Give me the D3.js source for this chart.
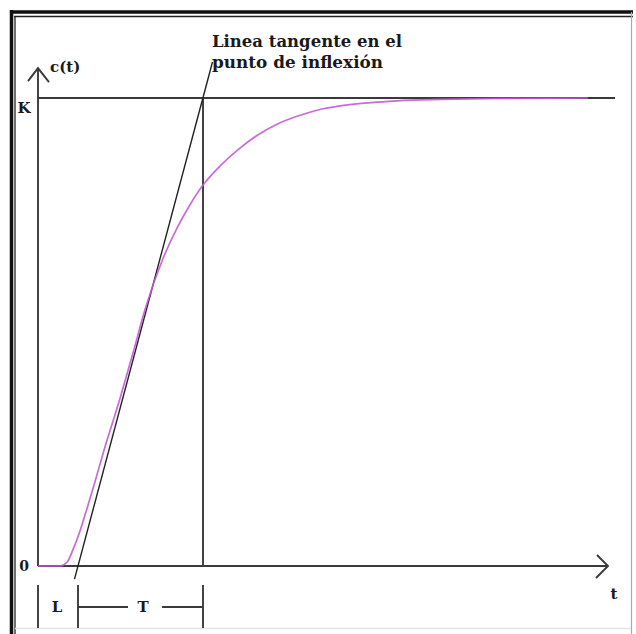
<!DOCTYPE html>
<html>
<head>
<meta charset="utf-8">
<script src="https://cdn.jsdelivr.net/npm/d3@7"></script>
<style>
  html, body { margin: 0; padding: 0; background: #fff; }
  svg { display: block; }
  .lbl { font-family: "DejaVu Serif", serif; font-weight: bold; fill: #1a1a1a; }
</style>
</head>
<body>
<svg id="chart" width="636" height="634"></svg>
<script>
// step response c(t) (t in arbitrary units, c normalised to K = 1)
const curveT = [0, 2.2, 2.9, 3.5, 4.2, 4.9, 5.7, 6.5, 8.2, 9.5, 10.7, 12.5, 13.9, 15.2, 16.5, 17.9, 20.2, 21.9, 23.9, 26.2, 28.5, 31.2, 33.9, 35.9, 40.4, 46.2, 55.0]
const curveC = [0, 0, 0.008, 0.035, 0.075, 0.123, 0.18, 0.24, 0.358, 0.455, 0.548, 0.657, 0.722, 0.772, 0.814, 0.848, 0.893, 0.92, 0.944, 0.963, 0.977, 0.986, 0.991, 0.994, 0.997, 0.999, 1.0]

// tangent line through the inflexion point (crosses 0 at L and K at L+T)
const tangentT = [3.65, 17.45]
const tangentC = [-0.028, 1.077]

const deadTime = 4.0       // L
const timeConst = 12.5     // T
const axisEndT = 57
const axisEndC = 1.064
const kLineEndT = 57.7

const yTickLabels = ["0", "K"]
const yTickValues = [0, 1]
const annotation = ["Linea tangente en el", "punto de inflexión"]

document.addEventListener('DOMContentLoaded', function () {
  const svg = d3.select('#chart')

  const x = d3.scaleLinear().domain([0, axisEndT]).range([38, 608])
  const y = d3.scaleLinear().domain([0, 1]).range([566, 98])

  const ink = '#3a3a3a'

  // picture frame
  svg.append('line').attr('x1', 10).attr('x2', 633).attr('y1', 12).attr('y2', 12)
    .attr('stroke', '#111').attr('stroke-width', 3.5)
  svg.append('line').attr('x1', 14).attr('x2', 633).attr('y1', 16.5).attr('y2', 16.5)
    .attr('stroke', '#222').attr('stroke-width', 1.3)
  svg.append('line').attr('x1', 11.5).attr('x2', 11.5).attr('y1', 10).attr('y2', 634)
    .attr('stroke', '#111').attr('stroke-width', 3.5)
  svg.append('line').attr('x1', 15).attr('x2', 15).attr('y1', 16).attr('y2', 634)
    .attr('stroke', '#222').attr('stroke-width', 1.3)
  svg.append('line').attr('x1', 631.5).attr('x2', 631.5).attr('y1', 12).attr('y2', 634)
    .attr('stroke', '#aaa').attr('stroke-width', 1.2)
  svg.append('line').attr('x1', 15).attr('x2', 631).attr('y1', 628.5).attr('y2', 628.5)
    .attr('stroke', '#e4e4e4').attr('stroke-width', 1.5)

  const g = svg.append('g')
    .attr('stroke', ink).attr('stroke-width', 1.9).attr('fill', 'none')

  // axes
  g.append('line').attr('x1', x(0)).attr('x2', x(0)).attr('y1', y(0)).attr('y2', y(axisEndC))
  g.append('line').attr('x1', x(0)).attr('x2', x(axisEndT)).attr('y1', y(0)).attr('y2', y(0))
  // arrow heads
  g.append('path')
    .attr('d', `M${x(0) - 10},${y(axisEndC) + 13} L${x(0)},${y(axisEndC)} L${x(0) + 11},${y(axisEndC) + 14}`)
  g.append('path')
    .attr('d', `M${x(axisEndT) - 11},${y(0) - 11} L${x(axisEndT)},${y(0)} L${x(axisEndT) - 12},${y(0) + 12}`)

  // K level
  g.append('line').attr('x1', x(0)).attr('x2', x(kLineEndT)).attr('y1', y(1)).attr('y2', y(1))
  // vertical at L + T
  g.append('line').attr('x1', x(deadTime + timeConst)).attr('x2', x(deadTime + timeConst))
    .attr('y1', y(1)).attr('y2', y(0))

  // tangent
  g.append('line')
    .attr('x1', x(tangentT[0])).attr('y1', y(tangentC[0]))
    .attr('x2', x(tangentT[1])).attr('y2', y(tangentC[1]))
    .attr('stroke', '#222').attr('stroke-width', 1.4)

  // response curve
  const pts = curveT.map((t, i) => [x(t), y(curveC[i])])
  svg.append('path')
    .attr('d', d3.line().curve(d3.curveMonotoneX)(pts))
    .attr('fill', 'none')
    .attr('stroke', '#c45ad4')
    .attr('stroke-opacity', 0.9)
    .attr('stroke-width', 1.7)

  // L / T markers below the time axis
  const markY0 = y(0) + 19, markY1 = y(0) + 62, barY = y(0) + 41
  for (const t of [0, deadTime, deadTime + timeConst]) {
    g.append('line').attr('x1', x(t)).attr('x2', x(t)).attr('y1', markY0).attr('y2', markY1)
  }
  g.append('line').attr('x1', x(deadTime)).attr('x2', x(deadTime) + 50).attr('y1', barY).attr('y2', barY)
  g.append('line').attr('x1', x(deadTime + timeConst) - 41).attr('x2', x(deadTime + timeConst)).attr('y1', barY).attr('y2', barY)

  // texts
  svg.selectAll('text.ytick')
    .data(yTickValues)
    .join('text')
    .attr('class', 'lbl ytick')
    .attr('x', 24)
    .attr('y', d => y(d) + (d === 0 ? 5 : 15))
    .attr('text-anchor', 'middle')
    .style('font-size', d => d === 0 ? '14px' : '15px')
    .text((d, i) => yTickLabels[i])

  svg.append('text').attr('class', 'lbl').attr('x', 50).attr('y', 72)
    .style('font-size', '15px').text('c(t)')
  svg.append('text').attr('class', 'lbl').attr('x', 614).attr('y', 599)
    .attr('text-anchor', 'middle').style('font-size', '15px').text('t')
  svg.append('text').attr('class', 'lbl').attr('x', (x(0) + x(deadTime)) / 2 - 1).attr('y', barY + 5)
    .attr('text-anchor', 'middle').style('font-size', '15px').text('L')
  svg.append('text').attr('class', 'lbl').attr('x', x(deadTime) + 65).attr('y', barY + 5)
    .attr('text-anchor', 'middle').style('font-size', '15px').text('T')

  svg.selectAll('text.note')
    .data(annotation)
    .join('text')
    .attr('class', 'lbl note')
    .attr('x', 212)
    .attr('y', (d, i) => 47 + i * 21)
    .attr('textLength', (d, i) => i === 0 ? 190 : 171)
    .attr('lengthAdjust', 'spacingAndGlyphs')
    .style('font-size', '17px')
    .text(d => d)
})
</script>
</body>
</html>
